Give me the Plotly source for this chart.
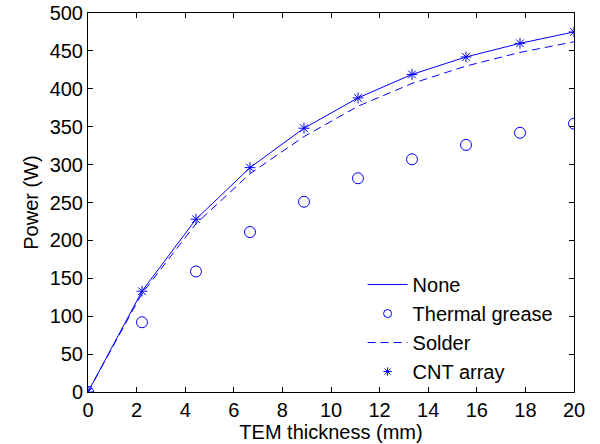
import plotly.graph_objects as go

thickness = [0, 2.222, 4.444, 6.667, 8.889, 11.111, 13.333, 15.556, 17.778, 20]
p_none = [0, 133, 228, 296, 348, 388, 419, 442, 460, 475]
p_grease = [0, 92, 159, 211, 251, 282, 307, 326, 342, 354]
p_solder = [0, 130, 222, 288, 337, 377, 407, 430, 448, 462]
p_cnt = [0, 133, 228, 296, 348, 388, 419, 442, 460, 475]

blue = "rgb(0,0,255)"
FONT = "Liberation Sans"
DASH = "8px,5px"
fig = go.Figure()
# plotted data
fig.add_trace(go.Scatter(x=thickness, y=p_none, mode="lines", name="None", showlegend=False,
                         line=dict(color=blue, width=1)))
fig.add_trace(go.Scatter(x=thickness, y=p_grease, mode="markers", name="Thermal grease", showlegend=False,
                         marker=dict(symbol="circle-open", size=11, color=blue, line=dict(width=1))))
fig.add_trace(go.Scatter(x=thickness, y=p_solder, mode="lines", name="Solder", showlegend=False,
                         line=dict(color=blue, width=1, dash=DASH)))
fig.add_trace(go.Scatter(x=thickness, y=p_cnt, mode="markers", name="CNT array", showlegend=False,
                         marker=dict(symbol="asterisk-open", size=9, color=blue, line=dict(width=1, color=blue))))
# legend entries (smaller legend symbols, as in the original)
fig.add_trace(go.Scatter(x=[None], y=[None], mode="lines", name="None",
                         line=dict(color=blue, width=1)))
fig.add_trace(go.Scatter(x=[None], y=[None], mode="markers", name="Thermal grease",
                         marker=dict(symbol="circle-open", size=8, color=blue, line=dict(width=1))))
fig.add_trace(go.Scatter(x=[None], y=[None], mode="lines", name="Solder",
                         line=dict(color=blue, width=1, dash=DASH)))
fig.add_trace(go.Scatter(x=[None], y=[None], mode="markers", name="CNT array",
                         marker=dict(symbol="asterisk-open", size=7, color=blue, line=dict(width=1, color=blue))))

axis_common = dict(showgrid=False, zeroline=False, showline=True, linecolor="black", linewidth=1,
                   mirror="ticks", ticks="inside", ticklen=5, tickcolor="black", automargin=False,
                   tickfont=dict(size=20, color="black", family=FONT))
fig.update_layout(
    width=600, height=444,
    margin=dict(l=88, r=26, t=13, b=52),
    paper_bgcolor="white", plot_bgcolor="white",
    font=dict(family=FONT, size=20, color="black"),
    xaxis=dict(range=[0, 20], dtick=2, title=dict(text="TEM thickness (mm)", standoff=4,
               font=dict(size=20, family=FONT)), **axis_common),
    yaxis=dict(range=[0, 500], dtick=50, title=dict(text="Power (W)", standoff=5,
               font=dict(size=20, family=FONT)), **axis_common),
    legend=dict(x=0.565, y=0.335, xanchor="left", yanchor="top", bgcolor="rgba(0,0,0,0)",
                font=dict(size=20, family=FONT), tracegroupgap=0, itemwidth=40),
    showlegend=True,
)
fig.write_html("out.html", config={"displayModeBar": False},
               post_script="document.body.style.margin='0';document.body.style.overflow='hidden';")
